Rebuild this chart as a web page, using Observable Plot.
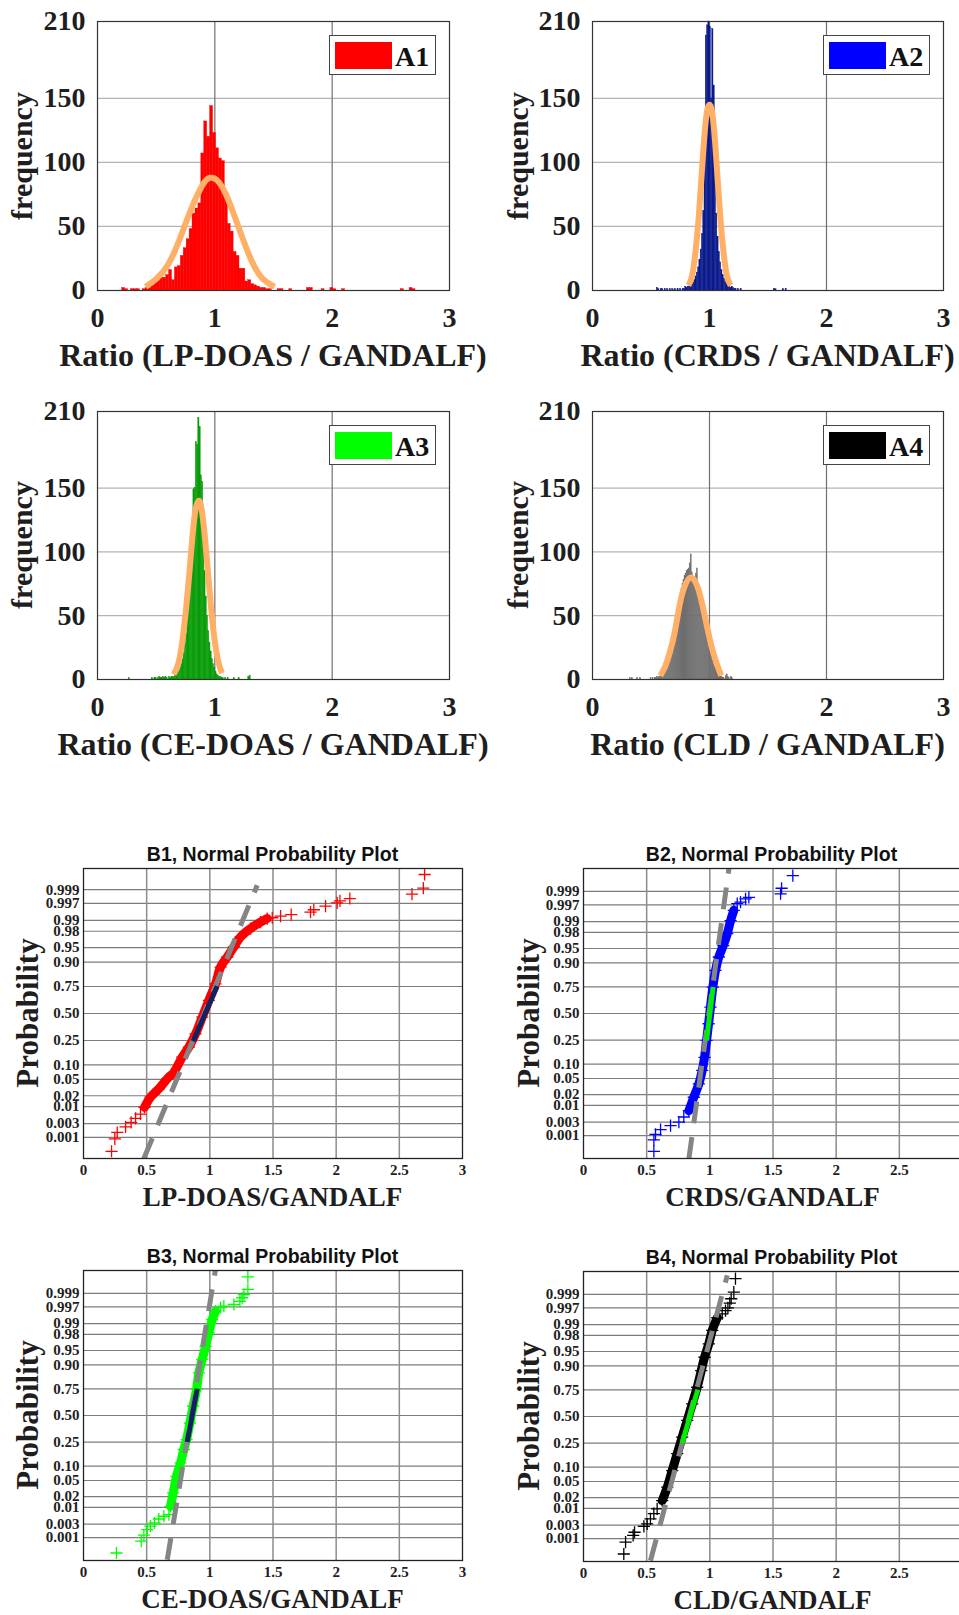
<!DOCTYPE html>
<html><head><meta charset="utf-8">
<script src="https://cdn.jsdelivr.net/npm/d3@7"></script>
<script src="https://cdn.jsdelivr.net/npm/@observablehq/plot@0.6"></script>
<style>
body{margin:0;background:#fff;}
#root{position:relative;width:959px;height:1615px;overflow:hidden;background:#fff;}
.lbl{position:absolute;white-space:nowrap;line-height:1;color:#1e1e1e;font-family:"Liberation Serif","Times New Roman",serif;font-weight:bold;}
.ttl{position:absolute;white-space:nowrap;line-height:1;color:#111;font-family:"Liberation Sans",Arial,sans-serif;font-weight:bold;}
.hist text{font-family:"Liberation Serif",serif !important;font-weight:bold;font-size:28px !important;fill:#1e1e1e;}
.npp text{font-family:"Liberation Serif",serif !important;font-weight:bold;font-size:15px !important;fill:#1e1e1e;}
.legend{position:absolute;border:1.3px solid #444;background:#fff;box-sizing:border-box;}
</style>
</head><body><div id="root"></div>
<script>
// ---------------- Histogram data (A panels) ----------------
const a1Start = 0.21, a1Width = 0.025;
const a1Counts = [2,1,0,1,1,1,0,1,2,2,4,10,8,10,10,12,16,8,18,19,27,33,40,48,60,64,68,107,132,120,144,123,111,103,101,74,52,46,30,27,17,17,7,8,5,4,3,2,2,1,1,0,0,1,1,0,0,1,0,0,0,0,0,2,2,0,0,0,1,0,0,2,1,0,0,1,0,0,0,0,0,0,0,0,0,0,0,0,0,0,0,0,0,0,0,1,0,0,2,1];
const a1FitX = [0.41,0.5,0.6,0.7,0.8,0.9,0.96,1.02,1.1,1.2,1.3,1.4,1.51];
const a1FitY = [3,9,20,40,64,83,88,86,74,50,26,10,3];

const a2Start = 0.55, a2Width = 0.011;
const a2Counts = [2,1,0,1,1,0,1,0,1,0,1,0,1,0,1,0,1,0,1,0,1,1,3,2,3,3,4,5,6,8,11,14,18,24,32,44,62,110,199,207,210,206,150,204,160,100,60,42,30,22,16,12,9,7,5,4,3,2,3,2,1,1,0,1,0,1,0,0,0,0,0,0,0,0,0,0,0,0,0,0,0,0,0,0,0,0,0,0,0,0,0,1,1,0,0,0,0,0,1,0,1];
const a2FitX = [0.82,0.85,0.88,0.91,0.94,0.97,1.0,1.03,1.06,1.09,1.12,1.15,1.18];
const a2FitY = [4,11,30,60,100,134,145,134,100,60,30,11,4];

const a3Start = 0.266, a3Width = 0.0104;
const a3Counts = [1,0,0,0,0,0,0,0,0,0,0,0,0,0,0,0,0,0,0,1,0,1,1,0,1,2,1,1,2,1,2,1,0,2,1,2,2,2,3,4,5,7,9,12,16,21,28,36,47,60,75,95,120,149,150,186,184,205,198,160,155,110,85,65,50,38,29,22,16,12,9,6,4,3,2,2,1,1,0,1,0,1,0,0,0,0,1,0,0,0,1,0,0,0,0,0,0,0,2,3];
const a3FitX = [0.65,0.69,0.73,0.77,0.80,0.83,0.862,0.89,0.92,0.95,0.99,1.03,1.06];
const a3FitY = [4,13,35,70,102,130,140,132,107,75,37,14,5];

const a4Start = 0.32, a4Width = 0.0088;
const a4Counts = [1,0,1,0,0,0,0,1,0,0,1,0,0,0,0,0,0,0,0,0,1,0,1,0,1,1,2,1,2,2,3,4,5,6,8,10,12,15,18,21,25,29,33,38,43,48,53,58,62,67,71,75,78,81,83,85,86,87,91,98,84,80,80,78,83,87,72,68,64,60,56,52,48,43,38,33,29,25,21,18,15,12,10,8,6,5,4,3,2,2,1,1,0,3,4,2,1,0,2,1];
const a4FitX = [0.58,0.62,0.66,0.70,0.74,0.78,0.84,0.90,0.94,0.98,1.02,1.06,1.10];
const a4FitY = [3,10,21,36,56,71,80,72,58,41,25,13,3];

const histXTicks = [0,1,2,3];
const histYTicks = [0,50,100,150,210];
const histLabels = ["Ratio (LP-DOAS / GANDALF)","Ratio (CRDS / GANDALF)","Ratio (CE-DOAS / GANDALF)","Ratio (CLD / GANDALF)"];
const legendNames = ["A1","A2","A3","A4"];

// ---------------- Normal probability plot data (B panels) ----------------
// ratio values and their probability positions given as standard-normal quantiles
const probLabels = ["0.001","0.003","0.01","0.02","0.05","0.10","0.25","0.50","0.75","0.90","0.95","0.98","0.99","0.997","0.999"];
const nppXTicksFull = [0,0.5,1,1.5,2,2.5,3];
const nppXTicksCut = [0,0.5,1,1.5,2,2.5];

const b1TailRatio = [0.222,0.248,0.267,0.333,0.377,0.412,0.451,1.494,1.560,1.644,1.797,1.823,1.916,2.008,2.030,2.108,2.600,2.690,2.700];
const b1TailQ     = [-3.44,-3.13,-2.97,-2.83,-2.72,-2.62,-2.51,2.39,2.43,2.47,2.53,2.59,2.68,2.76,2.81,2.87,2.98,3.13,3.47];
const b1BandRatio = [0.483,0.530,0.596,0.663,0.715,0.781,0.834,0.887,0.940,0.992,1.045,1.085,1.138,1.190,1.243,1.322,1.401,1.454];
const b1BandQ     = [-2.34,-2.09,-1.88,-1.63,-1.47,-1.09,-0.84,-0.51,-0.09,0.33,0.74,1.16,1.41,1.66,1.91,2.12,2.28,2.37];
const b1FitRatio = [0.478,1.375], b1FitQ = [-3.62,3.2];
const b1IqrRatio = [0.868,1.058], b1IqrQ = [-0.69,0.68];

const b2TailRatio = [0.557,0.557,0.570,0.610,0.689,0.755,0.794,1.217,1.243,1.283,1.309,1.560,1.568,1.657];
const b2TailQ     = [-3.49,-3.20,-3.06,-2.94,-2.84,-2.75,-2.62,2.78,2.82,2.90,2.94,3.03,3.17,3.49];
const b2BandRatio = [0.834,0.873,0.913,0.940,0.958,0.974,0.990,1.005,1.024,1.045,1.071,1.106,1.138,1.164,1.190];
const b2BandQ     = [-2.46,-2.12,-1.78,-1.44,-1.11,-0.68,-0.26,0.16,0.67,1.09,1.43,1.72,2.02,2.35,2.61];
const b2FitRatio = [0.834,1.151], b2FitQ = [-3.68,3.66];
const b2IqrRatio = [0.974,1.026], b2IqrQ = [-0.68,0.67];

const b3TailRatio = [0.261,0.457,0.478,0.504,0.530,0.562,0.596,0.636,0.676,1.085,1.111,1.190,1.238,1.256,1.270,1.301,1.301];
const b3TailQ     = [-3.48,-3.18,-3.03,-2.89,-2.80,-2.72,-2.62,-2.55,-2.51,2.73,2.77,2.81,2.89,2.98,3.06,3.19,3.51];
const b3BandRatio = [0.689,0.710,0.736,0.768,0.794,0.816,0.842,0.868,0.895,0.913,0.940,0.966,0.992,1.019,1.045];
const b3BandQ     = [-2.30,-1.96,-1.54,-1.20,-0.86,-0.61,-0.19,0.24,0.66,1.08,1.42,1.75,2.09,2.43,2.64];
const b3FitRatio = [0.663,1.045], b3FitQ = [-3.65,3.70];
const b3IqrRatio = [0.821,0.900], b3IqrQ = [-0.67,0.68];

const b4TailRatio = [0.319,0.333,0.393,0.404,0.478,0.504,0.530,0.557,0.583,1.098,1.124,1.143,1.158,1.169,1.190,1.203];
const b4TailQ     = [-3.48,-3.18,-3.01,-2.93,-2.78,-2.72,-2.59,-2.46,-2.34,2.60,2.68,2.75,2.87,2.98,3.15,3.49];
const b4BandRatio = [0.623,0.663,0.702,0.742,0.781,0.821,0.861,0.900,0.932,0.958,0.992,1.019,1.059];
const b4BandQ     = [-2.13,-1.79,-1.37,-0.94,-0.52,-0.10,0.32,0.74,1.16,1.50,1.84,2.18,2.50];
const b4FitRatio = [0.530,1.138], b4FitQ = [-3.65,3.57];
const b4IqrRatio = [0.781,0.905], b4IqrQ = [-0.67,0.68];

const nppTitles = ["B1, Normal Probability Plot","B2, Normal Probability Plot","B3, Normal Probability Plot","B4, Normal Probability Plot"];
const nppLabels = ["LP-DOAS/GANDALF","CRDS/GANDALF","CE-DOAS/GANDALF","CLD/GANDALF"];

// ---------------- helpers ----------------
function qnorm(p){
  const a=[-3.969683028665376e+01,2.209460984245205e+02,-2.759285104469687e+02,1.383577518672690e+02,-3.066479806614716e+01,2.506628277459239e+00];
  const b=[-5.447609879822406e+01,1.615858368580409e+02,-1.556989798598866e+02,6.680131188771972e+01,-1.328068155288572e+01];
  const c=[-7.784894002430293e-03,-3.223964580411365e-01,-2.400758277161838e+00,-2.549732539343734e+00,4.374664141464968e+00,2.938163982698783e+00];
  const d=[7.784695709041462e-03,3.224671290700398e-01,2.445134137142996e+00,3.754408661907416e+00];
  const pl=0.02425, ph=1-pl; let q,r;
  if(p<pl){q=Math.sqrt(-2*Math.log(p));return (((((c[0]*q+c[1])*q+c[2])*q+c[3])*q+c[4])*q+c[5])/((((d[0]*q+d[1])*q+d[2])*q+d[3])*q+1);}
  if(p<=ph){q=p-0.5;r=q*q;return (((((a[0]*r+a[1])*r+a[2])*r+a[3])*r+a[4])*r+a[5])*q/(((((b[0]*r+b[1])*r+b[2])*r+b[3])*r+b[4])*r+1);}
  q=Math.sqrt(-2*Math.log(1-p));return -(((((c[0]*q+c[1])*q+c[2])*q+c[3])*q+c[4])*q+c[5])/((((d[0]*q+d[1])*q+d[2])*q+d[3])*q+1);
}
const root = document.getElementById("root");
function place(el, x, y){ el.style.position="absolute"; el.style.left=x+"px"; el.style.top=y+"px"; root.appendChild(el); }
function label(text, cx, cy, size, rotate, cls){
  const s=document.createElement("div"); s.className=cls||"lbl"; s.textContent=text;
  s.style.fontSize=size+"px"; s.style.left=cx+"px"; s.style.top=cy+"px";
  s.style.transform="translate(-50%,-50%)"+(rotate?" rotate(-90deg)":"");
  root.appendChild(s);
}
function legend(x0,y0,color,name){
  const box=document.createElement("div"); box.className="legend";
  box.style.left=x0+"px"; box.style.top=y0+"px"; box.style.width="107px"; box.style.height="40px";
  const sw=document.createElement("div");
  Object.assign(sw.style,{position:"absolute",left:"5px",top:"6px",width:"57px",height:"27px",background:color});
  const t=document.createElement("div"); t.className="lbl"; t.textContent=name;
  Object.assign(t.style,{left:"65px",top:"7px",fontSize:"28px",color:"#111"});
  box.appendChild(sw); box.appendChild(t); root.appendChild(box);
}

// ---------------- A panels ----------------
const histPanels = [
  {start:a1Start,w:a1Width,counts:a1Counts,fx:a1FitX,fy:a1FitY,fill:"#ff0000",legend:"#ff0000",sx:0,sy:0,fl:97,fr:449,ft:21,fb:290},
  {start:a2Start,w:a2Width,counts:a2Counts,fx:a2FitX,fy:a2FitY,fill:"#0a1a8c",legend:"#0000ff",sx:480,sy:0,fl:592,fr:943,ft:21,fb:290},
  {start:a3Start,w:a3Width,counts:a3Counts,fx:a3FitX,fy:a3FitY,fill:"#079c07",legend:"#00ff00",sx:0,sy:390,fl:97,fr:449,ft:411,fb:679},
  {start:a4Start,w:a4Width,counts:a4Counts,fx:a4FitX,fy:a4FitY,fill:"#6e6e6e",legend:"#000000",sx:480,sy:390,fl:592,fr:943,ft:411,fb:679}
];
histPanels.forEach((p,i)=>{
  const bins = p.counts.map((c,k)=>({x1:p.start+k*p.w, x2:p.start+(k+1)*p.w, c})).filter(d=>d.c>0);
  const fit = p.fx.map((x,k)=>({x, y:p.fy[k]}));
  const W=479, H=370;
  const svg = Plot.plot({
    className:"hist", width:W, height:H,
    marginLeft:p.fl-p.sx, marginRight:p.sx+W-p.fr, marginTop:p.ft-p.sy, marginBottom:p.sy+H-p.fb,
    style:{background:"transparent",overflow:"visible",fontSize:"28px"},
    x:{domain:[0,3], ticks:histXTicks, tickSize:0, tickPadding:17, tickFormat:d=>String(d), label:null},
    y:{domain:[0,210], ticks:histYTicks, tickSize:0, tickPadding:12, tickFormat:d=>String(d), label:null},
    marks:[
      Plot.ruleY([50,100,150], {stroke:"#b4b4b4", strokeWidth:1.2}),
      Plot.ruleX([1,2], {stroke:"#707070", strokeWidth:1.2}),
      Plot.rectY(bins, {x1:"x1", x2:"x2", y:"c", fill:p.fill, stroke:p.fill, strokeWidth:0.4, insetLeft:0, insetRight:0}),
      Plot.line(fit, {x:"x", y:"y", stroke:"#ffb066", strokeWidth:6, curve:"natural", strokeLinecap:"butt"}),
      Plot.frame({stroke:"#333", strokeWidth:1.2})
    ]
  });
  place(svg, p.sx, p.sy);
  const cx=(p.fl+p.fr)/2;
  label(histLabels[i], cx, p.fb+65, 32);
  label("frequency", p.sx===0?22:518, (p.ft+p.fb)/2, 30, true);
  legend(p.fr-120, p.ft+14, p.legend, legendNames[i]);
});

// ---------------- B panels ----------------
const zTicks = probLabels.map(s=>qnorm(+s));
const nppPanels = [
  {tr:b1TailRatio,tq:b1TailQ,br:b1BandRatio,bq:b1BandQ,fr_:b1FitRatio,fq:b1FitQ,ir:b1IqrRatio,iq:b1IqrQ,color:"#ff0000",seg:"#102262",sx:0,sy:860,fl:83,fr:462,ft:868,fb:1158,zmax:3.62,xt:nppXTicksFull},
  {tr:b2TailRatio,tq:b2TailQ,br:b2BandRatio,bq:b2BandQ,fr_:b2FitRatio,fq:b2FitQ,ir:b2IqrRatio,iq:b2IqrQ,color:"#0000ff",seg:"#00ee00",sx:480,sy:860,fl:583,fr:962,ft:868,fb:1158,zmax:3.67,xt:nppXTicksCut},
  {tr:b3TailRatio,tq:b3TailQ,br:b3BandRatio,bq:b3BandQ,fr_:b3FitRatio,fq:b3FitQ,ir:b3IqrRatio,iq:b3IqrQ,color:"#00ff00",seg:"#102262",sx:0,sy:1262,fl:83,fr:462,ft:1270,fb:1560,zmax:3.67,xt:nppXTicksFull},
  {tr:b4TailRatio,tq:b4TailQ,br:b4BandRatio,bq:b4BandQ,fr_:b4FitRatio,fq:b4FitQ,ir:b4IqrRatio,iq:b4IqrQ,color:"#000000",seg:"#00ee00",sx:480,sy:1263,fl:583,fr:962,ft:1271,fb:1561,zmax:3.67,xt:nppXTicksCut}
];
nppPanels.forEach((p,i)=>{
  const band = p.br.map((r,k)=>({r, q:p.bq[k]}));
  const pts = band.concat(p.tr.map((r,k)=>({r, q:p.tq[k]})));
  const fit = p.fr_.map((r,k)=>({r, q:p.fq[k]}));
  const iqr = p.ir.map((r,k)=>({r, q:p.iq[k]}));
  const W = 500, H = 330;
  const svg = Plot.plot({
    className:"npp", width:W, height:H,
    marginLeft:p.fl-p.sx, marginRight:p.sx+W-p.fr, marginTop:p.ft-p.sy, marginBottom:p.sy+H-p.fb,
    style:{background:"transparent",overflow:"visible",fontSize:"15px"},
    x:{domain:[0,3], ticks:p.xt, tickSize:0, tickPadding:6, tickFormat:d=>String(d), label:null},
    y:{domain:[-p.zmax,p.zmax], ticks:zTicks, tickSize:0, tickPadding:4,
       tickFormat:z=>probLabels[zTicks.findIndex(t=>Math.abs(t-z)<1e-9)], label:null},
    marks:[
      Plot.ruleY(zTicks, {stroke:"#7c7c7c", strokeWidth:1.2}),
      Plot.ruleX([0.5,1,1.5,2,2.5], {stroke:"#8c8c8c", strokeWidth:1.5}),
      Plot.line(band, {x:"r", y:"q", stroke:p.color, strokeWidth:9, curve:"catmull-rom"}),
      Plot.dot(pts, {x:"r", y:"q", symbol:"plus", r:4, stroke:p.color, strokeWidth:1.3}),
      Plot.line(fit, {x:"r", y:"q", stroke:"#858585", strokeWidth:5, strokeDasharray:"22,14", strokeLinecap:"butt", clip:true}),
      Plot.line(iqr, {x:"r", y:"q", stroke:p.seg, strokeWidth:5, strokeLinecap:"butt"}),
      Plot.frame({stroke:"#222", strokeWidth:1.3})
    ]
  });
  place(svg, p.sx, p.sy);
  const cx=(p.fl+p.fl+379)/2;
  label(nppTitles[i], cx-(i%2?1:0), p.ft-13, 19.5, false, "ttl");
  label(nppLabels[i], cx, p.fb+39, 27);
  label("Probability", p.sx===0?27:528, (p.ft+p.fb)/2, 31, true);
});
</script>
</body></html>
